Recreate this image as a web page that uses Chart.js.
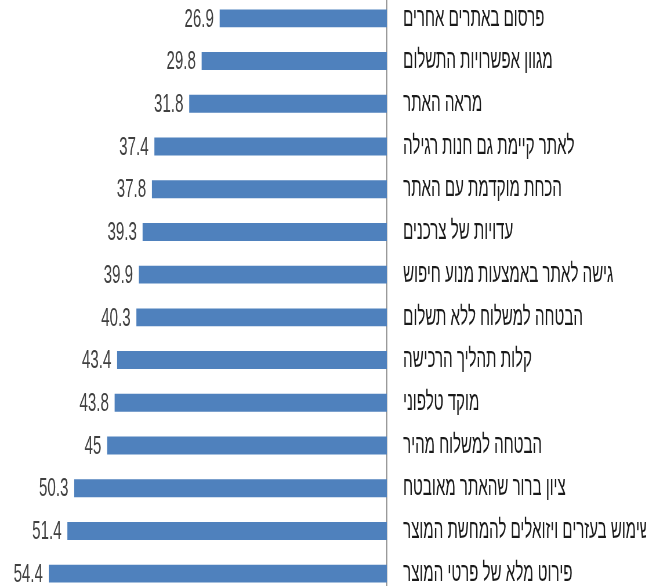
<!DOCTYPE html>
<html>
<head>
<meta charset="utf-8">
<script src="https://cdn.jsdelivr.net/npm/chart.js@4/dist/chart.umd.min.js"></script>
<style>
    html, body { margin: 0; padding: 0; background: #ffffff; overflow: hidden; }
    body { width: 646px; height: 586px; position: relative; }
    /* chart is drawn wide, then squeezed so the text comes out condensed */
    .chart-box {
        position: absolute;
        left: 0;
        top: -3px;
        width: 1114px;
        height: 598px;
        transform: scaleX(0.58);
        transform-origin: 0 0;
    }
</style>
</head>
<body>
<div class="chart-box">
    <canvas id="myChart" width="1114" height="598"></canvas>
</div>
<script>
//------------Chart Data-----------------

const categories = [
    'פרסום באתרים אחרים',
    'מגוון אפשרויות התשלום',
    'מראה האתר',
    'לאתר קיימת גם חנות רגילה',
    'הכחת מוקדמת עם האתר',
    'עדויות של צרכנים',
    'גישה לאתר באמצעות מנוע חיפוש',
    'הבטחה למשלוח ללא תשלום',
    'קלות תהליך הרכישה',
    'מוקד טלפוני',
    'הבטחה למשלוח מהיר',
    'ציון ברור שהאתר מאובטח',
    'שימוש בעזרים ויזואלים להמחשת המוצר',
    'פירוט מלא של פרטי המוצר'
];

const percentValues = [26.9, 29.8, 31.8, 37.4, 37.8, 39.3, 39.9, 40.3, 43.4, 43.8, 45, 50.3, 51.4, 54.4];

const axisMin = 0;
const axisMax = 60;

//------------Chart Data-----------------

// Writes the value just past the end of every bar
const valueLabels = {
    id: 'valueLabels',
    afterDatasetsDraw(chart) {
        const ctx = chart.ctx;
        const meta = chart.getDatasetMeta(0);
        ctx.save();
        ctx.font = '26px "Liberation Sans", Arial, sans-serif';
        ctx.fillStyle = '#404040';
        ctx.textAlign = 'right';
        ctx.textBaseline = 'middle';
        meta.data.forEach((bar, i) => {
            const value = chart.data.datasets[0].data[i];
            ctx.fillText(String(value), bar.x - 10, bar.y + 1);
        });
        ctx.restore();
    }
};

const ctx = document.getElementById('myChart').getContext('2d');

new Chart(ctx, {
    type: 'bar',
    data: {
        labels: categories,
        datasets: [{
            data: percentValues,
            backgroundColor: '#4F81BD',
            borderWidth: 0,
            barPercentage: 0.42,
            categoryPercentage: 1
        }]
    },
    options: {
        indexAxis: 'y',
        responsive: false,
        animation: false,
        devicePixelRatio: 1,
        layout: {
            padding: { left: 24, right: 0, top: 0, bottom: 0 }
        },
        plugins: {
            legend: { display: false },
            tooltip: { enabled: false }
        },
        scales: {
            x: {
                display: false,
                reverse: true,
                min: axisMin,
                max: axisMax
            },
            y: {
                position: 'right',
                afterFit: function (scale) {
                    // fixed label column, and no extra room above/below the bars
                    scale.width = 447;
                    scale.paddingTop = 0;
                    scale.paddingBottom = 0;
                },
                grid: {
                    display: false,
                    drawTicks: false
                },
                border: {
                    display: true,
                    color: '#8C8C8C',
                    width: 1.7
                },
                ticks: {
                    autoSkip: false,
                    padding: 28,
                    color: '#1a1a1a',
                    font: {
                        family: '"Liberation Sans", Arial, sans-serif',
                        size: 26
                    }
                }
            }
        }
    },
    plugins: [valueLabels]
});
</script>
</body>
</html>
